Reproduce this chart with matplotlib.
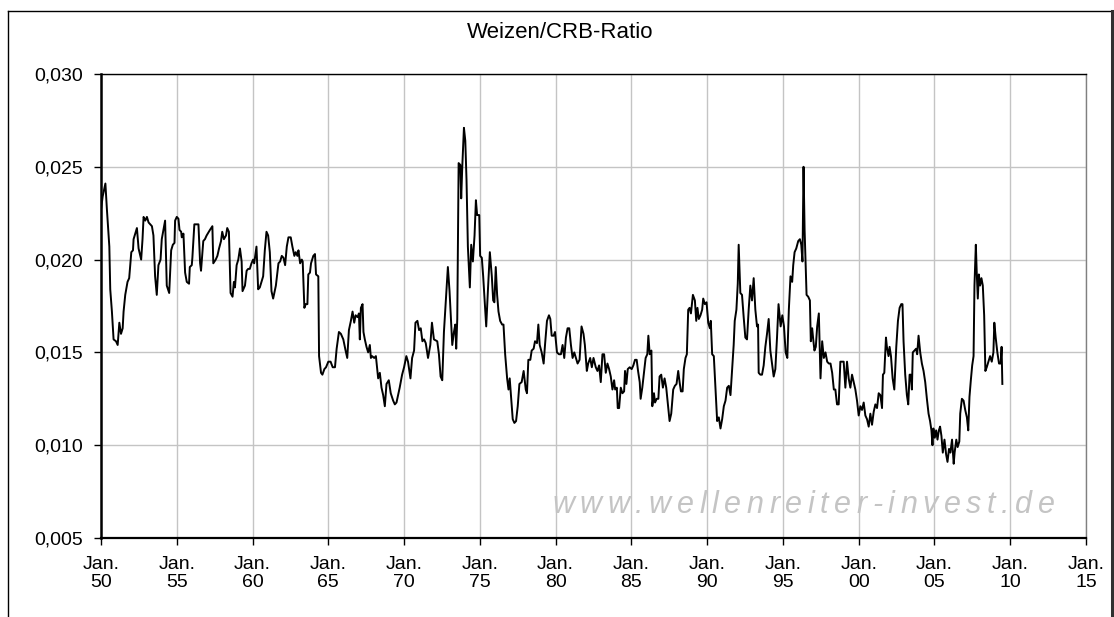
import matplotlib
matplotlib.use("Agg")
import matplotlib.pyplot as plt
from matplotlib.lines import Line2D
from matplotlib.font_manager import FontProperties, findfont, get_font

plt.rcParams["font.family"] = ["Liberation Sans", "DejaVu Sans"]

# monthly-ish readings of the ratio, decimal years
years = [
    1950.00, 1950.11, 1950.29, 1950.39, 1950.55, 1950.61, 1950.72, 1950.83, 1950.99, 1951.10,
    1951.21, 1951.32, 1951.43, 1951.49, 1951.60, 1951.75, 1951.86, 1952.00, 1952.11, 1952.15,
    1952.37, 1952.48, 1952.65, 1952.74, 1952.81, 1952.92, 1953.03, 1953.14, 1953.25, 1953.36,
    1953.46, 1953.57, 1953.68, 1953.79, 1953.93, 1954.01, 1954.23, 1954.34, 1954.50, 1954.63,
    1954.74, 1954.85, 1954.89, 1955.00, 1955.11, 1955.18, 1955.29, 1955.33, 1955.44, 1955.55,
    1955.66, 1955.81, 1955.86, 1955.99, 1956.03, 1956.16, 1956.43, 1956.54, 1956.60, 1956.75,
    1956.86, 1956.97, 1957.19, 1957.35, 1957.41, 1957.57, 1957.68, 1957.79, 1957.92, 1958.00,
    1958.11, 1958.25, 1958.33, 1958.44, 1958.55, 1958.68, 1958.77, 1958.84, 1958.95, 1959.06,
    1959.17, 1959.28, 1959.34, 1959.50, 1959.61, 1959.71, 1959.82, 1959.93, 1960.04, 1960.11,
    1960.26, 1960.37, 1960.48, 1960.59, 1960.70, 1960.81, 1960.92, 1961.03, 1961.14, 1961.25,
    1961.36, 1961.54, 1961.71, 1961.82, 1961.93, 1962.04, 1962.15, 1962.26, 1962.37, 1962.52,
    1962.63, 1962.76, 1962.85, 1962.96, 1963.03, 1963.14, 1963.25, 1963.31, 1963.42, 1963.51,
    1963.62, 1963.68, 1963.79, 1963.86, 1964.01, 1964.12, 1964.19, 1964.34, 1964.39, 1964.52,
    1964.61, 1964.74, 1964.85, 1965.00, 1965.15, 1965.29, 1965.44, 1965.55, 1965.70, 1965.83,
    1965.99, 1966.14, 1966.25, 1966.36, 1966.49, 1966.60, 1966.71, 1966.80, 1966.93, 1967.02,
    1967.08, 1967.15, 1967.26, 1967.32, 1967.41, 1967.52, 1967.63, 1967.74, 1967.81, 1967.89,
    1968.03, 1968.14, 1968.29, 1968.40, 1968.51, 1968.62, 1968.73, 1968.84, 1968.99, 1969.12,
    1969.28, 1969.39, 1969.50, 1969.71, 1969.87, 1970.00, 1970.15, 1970.26, 1970.42, 1970.53,
    1970.66, 1970.75, 1970.88, 1970.99, 1971.10, 1971.21, 1971.32, 1971.43, 1971.58, 1971.73,
    1971.84, 1971.97, 1972.19, 1972.30, 1972.41, 1972.52, 1972.63, 1972.79, 1972.89, 1973.00,
    1973.11, 1973.18, 1973.29, 1973.38, 1973.44, 1973.51, 1973.60, 1973.71, 1973.77, 1973.84,
    1973.95, 1974.04, 1974.12, 1974.21, 1974.34, 1974.43, 1974.54, 1974.65, 1974.74, 1974.82,
    1974.96, 1975.02, 1975.13, 1975.22, 1975.31, 1975.42, 1975.53, 1975.66, 1975.79, 1975.88,
    1975.96, 1976.05, 1976.14, 1976.23, 1976.34, 1976.47, 1976.56, 1976.67, 1976.80, 1976.89,
    1976.97, 1977.06, 1977.17, 1977.28, 1977.39, 1977.50, 1977.61, 1977.76, 1977.89, 1978.03,
    1978.11, 1978.20, 1978.33, 1978.42, 1978.55, 1978.64, 1978.77, 1978.86, 1978.95, 1979.08,
    1979.21, 1979.30, 1979.43, 1979.56, 1979.65, 1979.74, 1979.87, 1979.96, 1980.09, 1980.22,
    1980.35, 1980.46, 1980.57, 1980.68, 1980.79, 1980.90, 1981.01, 1981.12, 1981.23, 1981.34,
    1981.45, 1981.58, 1981.71, 1981.84, 1981.93, 1982.06, 1982.15, 1982.28, 1982.39, 1982.50,
    1982.65, 1982.76, 1982.87, 1982.98, 1983.09, 1983.20, 1983.31, 1983.42, 1983.53, 1983.64,
    1983.75, 1983.86, 1983.93, 1984.04, 1984.10, 1984.19, 1984.30, 1984.41, 1984.52, 1984.58,
    1984.67, 1984.76, 1984.89, 1985.02, 1985.13, 1985.24, 1985.35, 1985.44, 1985.55, 1985.61,
    1985.72, 1985.83, 1985.94, 1986.05, 1986.12, 1986.21, 1986.32, 1986.38, 1986.49, 1986.56,
    1986.67, 1986.78, 1986.86, 1986.97, 1987.08, 1987.19, 1987.30, 1987.41, 1987.52, 1987.63,
    1987.76, 1987.87, 1987.98, 1988.09, 1988.18, 1988.27, 1988.38, 1988.46, 1988.57, 1988.66,
    1988.75, 1988.84, 1988.93, 1989.06, 1989.19, 1989.28, 1989.36, 1989.45, 1989.56, 1989.67,
    1989.74, 1989.85, 1989.96, 1990.07, 1990.18, 1990.24, 1990.33, 1990.44, 1990.55, 1990.66,
    1990.77, 1990.88, 1990.99, 1991.10, 1991.21, 1991.32, 1991.43, 1991.54, 1991.64, 1991.75,
    1991.82, 1991.93, 1992.02, 1992.08, 1992.19, 1992.30, 1992.41, 1992.52, 1992.63, 1992.74,
    1992.85, 1992.96, 1993.07, 1993.18, 1993.29, 1993.36, 1993.40, 1993.51, 1993.62, 1993.73,
    1993.84, 1993.95, 1994.06, 1994.17, 1994.28, 1994.39, 1994.50, 1994.61, 1994.71, 1994.85,
    1994.96, 1995.07, 1995.18, 1995.29, 1995.39, 1995.50, 1995.61, 1995.68, 1995.77, 1995.88,
    1996.01, 1996.12, 1996.21, 1996.29, 1996.36, 1996.43, 1996.49, 1996.56, 1996.67, 1996.78,
    1996.84, 1996.93, 1997.00, 1997.08, 1997.17, 1997.26, 1997.37, 1997.43, 1997.48, 1997.59,
    1997.70, 1997.81, 1997.92, 1998.03, 1998.14, 1998.25, 1998.36, 1998.46, 1998.57, 1998.68,
    1998.79, 1998.90, 1999.01, 1999.12, 1999.23, 1999.34, 1999.45, 1999.56, 1999.67, 1999.78,
    1999.89, 2000.00, 2000.11, 2000.22, 2000.33, 2000.44, 2000.55, 2000.66, 2000.77, 2000.88,
    2000.99, 2001.10, 2001.21, 2001.32, 2001.43, 2001.54, 2001.60, 2001.69, 2001.80, 2001.86,
    2001.97, 2002.04, 2002.13, 2002.24, 2002.35, 2002.48, 2002.59, 2002.70, 2002.81, 2002.89,
    2002.96, 2003.07, 2003.18, 2003.27, 2003.36, 2003.44, 2003.51, 2003.57, 2003.68, 2003.79,
    2003.86, 2003.95, 2004.06, 2004.17, 2004.28, 2004.39, 2004.50, 2004.61, 2004.71, 2004.80,
    2004.87, 2004.93, 2005.02, 2005.11, 2005.20, 2005.29, 2005.37, 2005.46, 2005.55, 2005.66,
    2005.77, 2005.86, 2005.96, 2006.05, 2006.16, 2006.27, 2006.33, 2006.44, 2006.53, 2006.64,
    2006.70, 2006.81, 2006.92, 2007.03, 2007.14, 2007.23, 2007.31, 2007.40, 2007.49, 2007.58,
    2007.64, 2007.73, 2007.79, 2007.86, 2007.93, 2008.01, 2008.10, 2008.19, 2008.28, 2008.36,
    2008.45, 2008.56, 2008.67, 2008.78, 2008.89, 2008.95, 2009.04, 2009.15, 2009.26, 2009.37,
    2009.43, 2009.48,
]

ratio = [
    0.0227, 0.0234, 0.0241, 0.0227, 0.0207, 0.0184, 0.0172, 0.0157, 0.0156, 0.0154,
    0.0166, 0.0160, 0.0163, 0.0172, 0.0181, 0.0188, 0.0190, 0.0204, 0.0205, 0.0211,
    0.0217, 0.0206, 0.0200, 0.0211, 0.0223, 0.0221, 0.0223, 0.0220, 0.0219, 0.0218,
    0.0213, 0.0191, 0.0181, 0.0197, 0.0200, 0.0211, 0.0221, 0.0186, 0.0182, 0.0205,
    0.0208, 0.0209, 0.0221, 0.0223, 0.0222, 0.0216, 0.0215, 0.0212, 0.0214, 0.0193,
    0.0188, 0.0187, 0.0196, 0.0197, 0.0201, 0.0219, 0.0219, 0.0198, 0.0194, 0.0210,
    0.0211, 0.0213, 0.0216, 0.0218, 0.0198, 0.0200, 0.0202, 0.0206, 0.0210, 0.0215,
    0.0211, 0.0213, 0.0217, 0.0215, 0.0182, 0.0180, 0.0188, 0.0185, 0.0197, 0.0200,
    0.0206, 0.0199, 0.0183, 0.0186, 0.0194, 0.0195, 0.0195, 0.0198, 0.0200, 0.0198,
    0.0207, 0.0184, 0.0185, 0.0188, 0.0191, 0.0205, 0.0215, 0.0213, 0.0204, 0.0183,
    0.0179, 0.0186, 0.0198, 0.0199, 0.0202, 0.0201, 0.0197, 0.0207, 0.0212, 0.0212,
    0.0207, 0.0202, 0.0204, 0.0202, 0.0205, 0.0198, 0.0200, 0.0199, 0.0174, 0.0176,
    0.0176, 0.0192, 0.0193, 0.0198, 0.0202, 0.0203, 0.0192, 0.0191, 0.0148, 0.0139,
    0.0138, 0.0141, 0.0142, 0.0145, 0.0145, 0.0142, 0.0142, 0.0152, 0.0161, 0.0160,
    0.0157, 0.0151, 0.0147, 0.0162, 0.0167, 0.0172, 0.0166, 0.0170, 0.0169, 0.0171,
    0.0157, 0.0174, 0.0176, 0.0161, 0.0157, 0.0153, 0.0150, 0.0154, 0.0147, 0.0148,
    0.0147, 0.0148, 0.0136, 0.0139, 0.0131, 0.0127, 0.0121, 0.0133, 0.0135, 0.0128,
    0.0124, 0.0122, 0.0123, 0.0131, 0.0138, 0.0142, 0.0148, 0.0145, 0.0136, 0.0147,
    0.0151, 0.0166, 0.0167, 0.0162, 0.0163, 0.0156, 0.0157, 0.0155, 0.0147, 0.0154,
    0.0166, 0.0157, 0.0156, 0.0149, 0.0137, 0.0135, 0.0161, 0.0183, 0.0196, 0.0183,
    0.0165, 0.0154, 0.0161, 0.0165, 0.0152, 0.0168, 0.0252, 0.0251, 0.0233, 0.0250,
    0.0271, 0.0264, 0.0243, 0.0207, 0.0185, 0.0208, 0.0199, 0.0213, 0.0232, 0.0224,
    0.0224, 0.0202, 0.0201, 0.0191, 0.0179, 0.0164, 0.0183, 0.0204, 0.0191, 0.0178,
    0.0177, 0.0196, 0.0181, 0.0172, 0.0167, 0.0165, 0.0165, 0.0149, 0.0136, 0.0130,
    0.0136, 0.0126, 0.0114, 0.0112, 0.0113, 0.0121, 0.0133, 0.0134, 0.0140, 0.0130,
    0.0128, 0.0146, 0.0146, 0.0151, 0.0152, 0.0156, 0.0155, 0.0165, 0.0154, 0.0150,
    0.0144, 0.0154, 0.0167, 0.0170, 0.0168, 0.0159, 0.0159, 0.0161, 0.0150, 0.0149,
    0.0149, 0.0154, 0.0147, 0.0158, 0.0163, 0.0163, 0.0154, 0.0147, 0.0150, 0.0147,
    0.0144, 0.0146, 0.0164, 0.0160, 0.0154, 0.0140, 0.0144, 0.0147, 0.0142, 0.0147,
    0.0142, 0.0140, 0.0143, 0.0134, 0.0149, 0.0149, 0.0139, 0.0144, 0.0141, 0.0137,
    0.0130, 0.0135, 0.0130, 0.0131, 0.0120, 0.0120, 0.0131, 0.0128, 0.0129, 0.0140,
    0.0133, 0.0141, 0.0142, 0.0141, 0.0143, 0.0146, 0.0146, 0.0140, 0.0134, 0.0125,
    0.0131, 0.0139, 0.0147, 0.0149, 0.0159, 0.0149, 0.0151, 0.0121, 0.0128, 0.0123,
    0.0125, 0.0125, 0.0137, 0.0138, 0.0131, 0.0136, 0.0131, 0.0122, 0.0113, 0.0117,
    0.0130, 0.0132, 0.0133, 0.0140, 0.0134, 0.0129, 0.0129, 0.0141, 0.0147, 0.0149,
    0.0173, 0.0174, 0.0171, 0.0181, 0.0178, 0.0167, 0.0174, 0.0168, 0.0170, 0.0173,
    0.0179, 0.0176, 0.0177, 0.0166, 0.0163, 0.0167, 0.0149, 0.0148, 0.0131, 0.0113,
    0.0115, 0.0109, 0.0114, 0.0121, 0.0124, 0.0131, 0.0132, 0.0127, 0.0140, 0.0154,
    0.0167, 0.0173, 0.0187, 0.0208, 0.0182, 0.0181, 0.0169, 0.0158, 0.0157, 0.0173,
    0.0186, 0.0178, 0.0190, 0.0173, 0.0164, 0.0165, 0.0139, 0.0138, 0.0138, 0.0143,
    0.0153, 0.0160, 0.0168, 0.0151, 0.0144, 0.0137, 0.0141, 0.0158, 0.0176, 0.0164,
    0.0170, 0.0164, 0.0150, 0.0147, 0.0173, 0.0191, 0.0188, 0.0197, 0.0204, 0.0206,
    0.0210, 0.0211, 0.0208, 0.0199, 0.0250, 0.0216, 0.0200, 0.0181, 0.0180, 0.0178,
    0.0156, 0.0163, 0.0157, 0.0151, 0.0153, 0.0164, 0.0171, 0.0153, 0.0136, 0.0156,
    0.0147, 0.0150, 0.0145, 0.0144, 0.0144, 0.0139, 0.0130, 0.0130, 0.0122, 0.0122,
    0.0145, 0.0145, 0.0145, 0.0131, 0.0145, 0.0136, 0.0131, 0.0138, 0.0134, 0.0130,
    0.0124, 0.0116, 0.0121, 0.0119, 0.0123, 0.0116, 0.0114, 0.0110, 0.0117, 0.0111,
    0.0118, 0.0122, 0.0120, 0.0128, 0.0127, 0.0120, 0.0138, 0.0139, 0.0158, 0.0153,
    0.0148, 0.0153, 0.0148, 0.0136, 0.0130, 0.0153, 0.0167, 0.0174, 0.0176, 0.0176,
    0.0156, 0.0138, 0.0127, 0.0122, 0.0138, 0.0138, 0.0130, 0.0150, 0.0151, 0.0152,
    0.0149, 0.0159, 0.0150, 0.0144, 0.0140, 0.0134, 0.0125, 0.0117, 0.0113, 0.0108,
    0.0100, 0.0109, 0.0104, 0.0108, 0.0103, 0.0108, 0.0110, 0.0105, 0.0096, 0.0103,
    0.0095, 0.0091, 0.0098, 0.0096, 0.0103, 0.0090, 0.0096, 0.0103, 0.0099, 0.0102,
    0.0117, 0.0125, 0.0124, 0.0119, 0.0115, 0.0108, 0.0126, 0.0135, 0.0143, 0.0148,
    0.0186, 0.0208, 0.0193, 0.0179, 0.0192, 0.0186, 0.0190, 0.0186, 0.0170, 0.0140,
    0.0142, 0.0145, 0.0148, 0.0145, 0.0150, 0.0166, 0.0158, 0.0150, 0.0144, 0.0144,
    0.0153, 0.0133,
]

tick_years = list(range(1950, 2016, 5))
tick_labels = ["Jan.\n%02d" % (y % 100) for y in tick_years]
y_ticks = [0.005, 0.010, 0.015, 0.020, 0.025, 0.030]
y_labels = [("%.3f" % v).replace(".", ",") for v in y_ticks]
title = "Weizen/CRB-Ratio"
watermark = "www.wellenreiter-invest.de"

W, H = 1114, 617
fig = plt.figure(figsize=(W / 100, H / 100), dpi=100)
ax = fig.add_axes([101 / W, 1 - 538 / H, 985 / W, 464 / H])

ax.plot(years, ratio, color="black", lw=1.4, zorder=3)
ax.set_xlim(1950, 2015)
ax.set_ylim(0.005, 0.030)
ax.set_xticks(tick_years)
ax.set_xticklabels(tick_labels, linespacing=1.1)
ax.set_yticks(y_ticks)
ax.set_yticklabels(y_labels)
ax.grid(True, color="#c4c4c4", lw=1)
ax.set_axisbelow(True)

ax.spines["left"].set_linewidth(1.8)
ax.spines["bottom"].set_linewidth(1.6)
ax.spines["top"].set_linewidth(1.0)
ax.spines["right"].set_linewidth(1.0)
ax.spines["right"].set_color("#808080")
ax.tick_params(axis="x", length=5, width=1, pad=8, labelsize=14)
ax.tick_params(axis="y", length=5, width=1, pad=8, labelsize=14)

fig.text(560 / W, 1 - 33 / H, title, ha="center", va="center", fontsize=16)

# watermark: letter-spaced grey italic text, advance widths from the font
wm_size = 22
wm_prop = FontProperties(family="Liberation Sans", style="italic", size=wm_size)
ft = get_font(findfont(wm_prop))
ft.set_size(wm_size, 100)
x = 552.0
for ch in watermark:
    fig.text(x / W, 1 - 505 / H, ch, ha="left", va="center", fontproperties=wm_prop,
             color="#c4c4c4", zorder=1)
    x += ft.load_char(ord(ch)).linearHoriAdvance / 65536 + 5.6

# outer frame of the chart object
fig.add_artist(Line2D([7.5 / W, 7.5 / W], [0, 1 - 10.5 / H], transform=fig.transFigure,
                      color="black", lw=1))
fig.add_artist(Line2D([7.5 / W, 1111.5 / W], [1 - 10.5 / H, 1 - 10.5 / H],
                      transform=fig.transFigure, color="black", lw=1))
fig.add_artist(Line2D([1111.5 / W, 1111.5 / W], [0, 1 - 10.5 / H], transform=fig.transFigure,
                      color="#303030", lw=2.2))

fig.savefig("out.png", dpi=100)
